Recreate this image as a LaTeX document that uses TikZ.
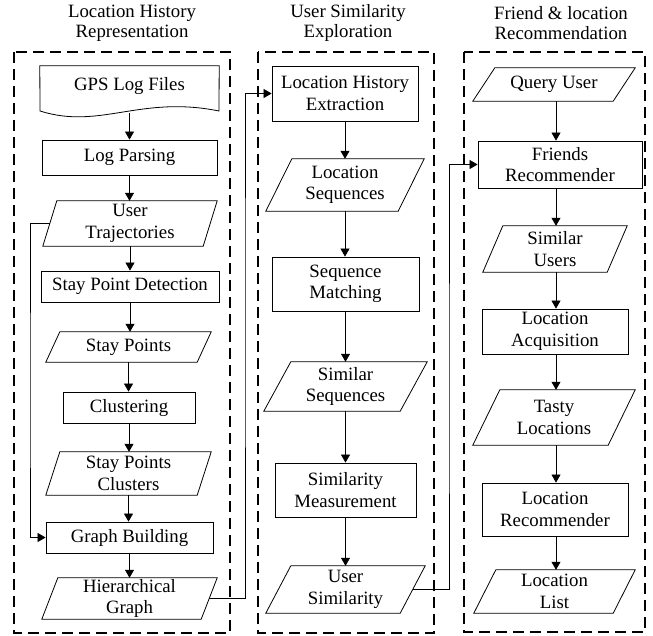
\documentclass[tikz,border=0pt]{standalone}
\usepackage{fontspec}
\setmainfont{Liberation Serif}
\usetikzlibrary{arrows.meta}
\newcommand\drawpara[2]{\draw[line width=0.8pt] ([xshift=#2pt]#1.north west) -- (#1.north east) -- ([xshift=-#2pt]#1.south east) -- (#1.south west) -- cycle;}
\begin{document}
\begin{tikzpicture}[x=1pt,y=-1pt,
  every node/.style={font=\fontsize{18.8}{21.5}\selectfont, align=center, inner sep=1pt},
  title/.style={font=\fontsize{18.8}{20}\selectfont},
  box/.style n args={2}{draw, rectangle, line width=0.8pt, minimum width=#1, minimum height=#2},
  para/.style n args={2}{rectangle, minimum width=#1, minimum height=#2},
  frame/.style={line width=1.6pt, dash pattern=on 11pt off 6pt},
  arr/.style={-{Triangle[length=8pt,width=9pt]}, line width=0.7pt},
  link/.style={line width=0.7pt}]
\fill[white] (0,0) rectangle (653,635);
\useasboundingbox (0,0) rectangle (653,635);

% titles
\node[title] (t1) at (132,23) {Location History\\Representation};
\node[title] (t2) at (348,23) {User Similarity\\Exploration};
\node[title] (t3) at (561,23) {Friend \& location\\Recommendation};

% frames
\draw[frame] (14,52) rectangle (230,633);
\draw[frame] (258,52) rectangle (434,633);
\draw[frame] (464,52) rectangle (645,632);

% column 1
\node[minimum width=179, minimum height=40] (gps) at (129.5,86) {GPS Log Files};
\draw[line width=0.8pt] (gps.north west) -- (gps.north east) -- (219,111)
  .. controls (140,95) and (100,130) .. (40,111) -- cycle;
\node[box={175}{35}] (lp) at (129.5,157.5) {Log Parsing};
\node[para={174}{45}] (ut) at (130,223.5) {User\\Trajectories}; \drawpara{ut}{14}
\node[box={178}{31}] (spd) at (130,286.5) {Stay Point Detection};
\node[para={165}{30}] (sp) at (128.5,347) {Stay Points}; \drawpara{sp}{14}
\node[box={132}{31}] (cl) at (129,407.5) {Clustering};
\node[para={165}{43}] (spc) at (128.5,473.5) {Stay Points\\Clusters}; \drawpara{spc}{14}
\node[box={167}{31}] (gb) at (129.5,537.5) {Graph Building};
\node[para={175}{41}] (hg) at (129.5,598.5) {Hierarchical\\Graph}; \drawpara{hg}{16}

% column 2
\node[box={146}{55}] (lhe) at (345,93.5) {Location History\\Extraction};
\node[para={158}{52}] (ls) at (345,185) {Location\\Sequences}; \drawpara{ls}{26}
\node[box={147}{54}] (sm) at (345.5,284) {Sequence\\Matching};
\node[para={163}{49}] (ss) at (345.5,386.5) {Similar\\Sequences}; \drawpara{ss}{27}
\node[box={141}{54}] (smm) at (345.5,490) {Similarity\\Measurement};
\node[para={159}{47}] (us) at (345.5,589.5) {User\\Similarity}; \drawpara{us}{25}

% column 3
\node[para={162}{33}] (qu) at (554,84.5) {Query User}; \drawpara{qu}{22}
\node[box={164}{47}] (fr) at (560,164.5) {Friends\\Recommender};
\node[para={144}{46}] (su) at (555,249) {Similar\\Users}; \drawpara{su}{20}
\node[box={146}{45}] (la) at (555,331.5) {Location\\Acquisition};
\node[para={162}{55}] (tl) at (554,417.5) {Tasty\\Locations}; \drawpara{tl}{27}
\node[box={146}{53}] (lr) at (555,509.5) {Location\\Recommender};
\node[para={161}{43}] (ll) at (554.5,591.5) {Location\\List}; \drawpara{ll}{22}

% vertical arrows
\draw[arr] ([yshift=-7pt]gps.south) -- (gps.south |- lp.north);
\draw[arr] (lp.south) -- (lp.south |- ut.north);
\draw[arr] (ut.south) -- (ut.south |- spd.north);
\draw[arr] (spd.south) -- (spd.south |- sp.north);
\draw[arr] (sp.south) -- (sp.south |- cl.north);
\draw[arr] (cl.south) -- (cl.south |- spc.north);
\draw[arr] (spc.south) -- (spc.south |- gb.north);
\draw[arr] (gb.south) -- (gb.south |- hg.north);

\draw[arr] (lhe.south) -- (lhe.south |- ls.north);
\draw[arr] (ls.south) -- (ls.south |- sm.north);
\draw[arr] (sm.south) -- (sm.south |- ss.north);
\draw[arr] (ss.south) -- (ss.south |- smm.north);
\draw[arr] (smm.south) -- (smm.south |- us.north);

\coordinate (x3) at (556,0);
\draw[arr] (x3 |- qu.south) -- (x3 |- fr.north);
\draw[arr] (x3 |- fr.south) -- (x3 |- su.north);
\draw[arr] (x3 |- su.south) -- (x3 |- la.north);
\draw[arr] (x3 |- la.south) -- (x3 |- tl.north);
\draw[arr] (x3 |- tl.south) -- (x3 |- lr.north);
\draw[arr] (x3 |- lr.south) -- (x3 |- ll.north);

% routed connectors
\coordinate (c1) at (245,300);
\coordinate (c2) at (449,400);
\coordinate (c3) at (30,400);
\draw[arr] ([xshift=7pt]ut.west) -| (c3) |- (gb.west);
\draw[arr] ([xshift=-8pt]hg.east) -| (c1) |- (lhe.west);
\draw[arr] ([xshift=-12pt]us.east) -| (c2) |- (fr.west);
\end{tikzpicture}
\end{document}
